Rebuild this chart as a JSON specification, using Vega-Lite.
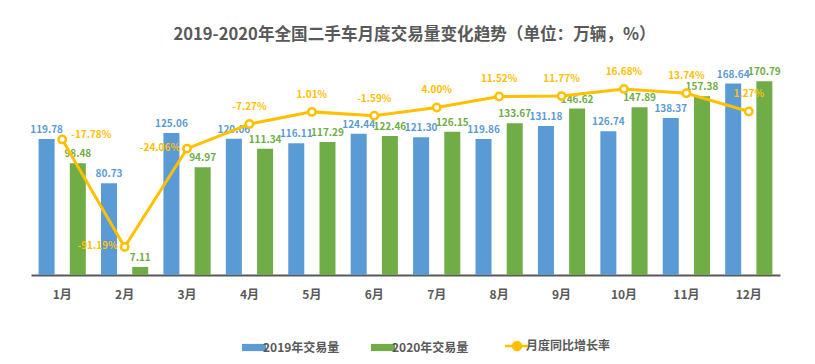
{
  "$schema": "https://vega.github.io/schema/vega-lite/v6.json",
  "width": 749,
  "height": 227,
  "autosize": {"type": "none"},
  "padding": {"left": 31, "top": 48, "right": 35, "bottom": 89},
  "background": "white",
  "title": {
    "text": "2019-2020年全国二手车月度交易量变化趋势（单位：万辆，%）",
    "font": "Noto Sans CJK SC",
    "fontSize": 16.6,
    "fontWeight": "bold",
    "color": "#595959",
    "anchor": "middle",
    "dx": 9,
    "offset": 4
  },
  "config": {
    "view": {"stroke": null},
    "font": "Noto Sans CJK SC",
    "legend": {"labelFontWeight": 700, "labelFont": "Noto Sans CJK SC", "labelFontSize": 12, "labelColor": "#595959"}
  },
  "datasets": {
    "bars": [
      {"month": "1月", "series": "2019年交易量", "value": 119.78},
      {"month": "2月", "series": "2019年交易量", "value": 80.73},
      {"month": "3月", "series": "2019年交易量", "value": 125.06},
      {"month": "4月", "series": "2019年交易量", "value": 120.06},
      {"month": "5月", "series": "2019年交易量", "value": 116.11},
      {"month": "6月", "series": "2019年交易量", "value": 124.44},
      {"month": "7月", "series": "2019年交易量", "value": 121.30},
      {"month": "8月", "series": "2019年交易量", "value": 119.86},
      {"month": "9月", "series": "2019年交易量", "value": 131.18},
      {"month": "10月", "series": "2019年交易量", "value": 126.74},
      {"month": "11月", "series": "2019年交易量", "value": 138.37},
      {"month": "12月", "series": "2019年交易量", "value": 168.64},
      {"month": "1月", "series": "2020年交易量", "value": 98.48},
      {"month": "2月", "series": "2020年交易量", "value": 7.11},
      {"month": "3月", "series": "2020年交易量", "value": 94.97},
      {"month": "4月", "series": "2020年交易量", "value": 111.34},
      {"month": "5月", "series": "2020年交易量", "value": 117.29},
      {"month": "6月", "series": "2020年交易量", "value": 122.46},
      {"month": "7月", "series": "2020年交易量", "value": 126.15},
      {"month": "8月", "series": "2020年交易量", "value": 133.67},
      {"month": "9月", "series": "2020年交易量", "value": 146.62},
      {"month": "10月", "series": "2020年交易量", "value": 147.89},
      {"month": "11月", "series": "2020年交易量", "value": 157.38},
      {"month": "12月", "series": "2020年交易量", "value": 170.79}
    ],
    "growth": [
      {"month": "1月", "rate": -0.1778},
      {"month": "2月", "rate": -0.9119},
      {"month": "3月", "rate": -0.2406},
      {"month": "4月", "rate": -0.0727},
      {"month": "5月", "rate": 0.0101},
      {"month": "6月", "rate": -0.0159},
      {"month": "7月", "rate": 0.0400},
      {"month": "8月", "rate": 0.1152},
      {"month": "9月", "rate": 0.1177},
      {"month": "10月", "rate": 0.1668},
      {"month": "11月", "rate": 0.1374},
      {"month": "12月", "rate": 0.0127}
    ]
  },
  "encoding": {
    "x": {
      "field": "month",
      "type": "nominal",
      "sort": ["1月","2月","3月","4月","5月","6月","7月","8月","9月","10月","11月","12月"],
      "scale": {"paddingInner": 0, "paddingOuter": 0},
      "axis": {
        "title": null,
        "labelAngle": 0,
        "labelFont": "Noto Sans CJK SC",
        "labelFontSize": 12,
        "labelFontWeight": "bold",
        "labelColor": "#595959",
        "labelPadding": 14,
        "ticks": false,
        "domainColor": "#595959",
        "domainWidth": 2,
        "grid": false
      }
    }
  },
  "layer": [
    {
      "layer": [
        {
          "data": {"name": "bars"},
          "mark": {"type": "bar"},
          "encoding": {
            "xOffset": {"field": "series", "type": "nominal", "scale": {"paddingInner": 0.487, "paddingOuter": 0.2435}},
            "y": {"field": "value", "type": "quantitative", "scale": {"domain": [0, 200], "nice": false}, "axis": null},
            "color": {
              "field": "series",
              "type": "nominal",
              "scale": {
                "domain": ["2019年交易量", "2020年交易量", "月度同比增长率"],
                "range": ["#5B9BD5", "#70AD47", "#FFC000"]
              },
              "legend": {
                "title": null,
                "orient": "none",
                "direction": "horizontal",
                "legendX": 217,
                "legendY": 292,
                "labelFont": "Noto Sans CJK SC",
                "labelFontSize": 12,
                "labelFontWeight": 700,
                "labelColor": "#595959",
                "labelOffset": 3,
                "columnPadding": 31,
                "symbolSize": 576,
                "encode": {
                  "labels": {
                    "update": {
                      "fontWeight": {"value": 700},
                      "font": {"value": "Noto Sans CJK SC"}
                    }
                  },
                  "symbols": {
                    "update": {
                      "shape": {"signal": "datum.value === '月度同比增长率' ? 'M-1,0H-0.33M0.33,0H1M0.33,0A0.33,0.33,0,1,1,-0.33,0A0.33,0.33,0,1,1,0.33,0' : 'M-1,-0.3H1V0.3H-1Z'"},
                      "fill": {"signal": "datum.value === '月度同比增长率' ? 'white' : scale('color', datum.value)"},
                      "stroke": {"signal": "scale('color', datum.value)"},
                      "strokeWidth": {"signal": "datum.value === '月度同比增长率' ? 2.5 : 0"},
                      "fillOpacity": {"value": 1}
                    }
                  }
                }
              }
            }
          }
        },
        {
          "data": {"name": "bars"},
          "mark": {"type": "text", "baseline": "bottom", "dy": -4, "font": "Noto Sans CJK SC", "fontSize": 10, "fontWeight": "bold"},
          "encoding": {
            "xOffset": {"field": "series", "type": "nominal", "scale": {"paddingInner": 0.487, "paddingOuter": 0.2435}},
            "y": {"field": "value", "type": "quantitative", "scale": {"domain": [0, 200], "nice": false}, "axis": null},
            "text": {"field": "value", "type": "quantitative", "format": ".2f"},
            "color": {"field": "series", "type": "nominal", "legend": null}
          }
        }
      ]
    },
    {
      "data": {"name": "growth"},
      "encoding": {
        "y": {"field": "rate", "type": "quantitative", "scale": {"domain": [-1.103, 0.446], "nice": false, "zero": false}, "axis": null}
      },
      "layer": [
        {"mark": {"type": "line", "color": "#FFC000", "strokeWidth": 3}},
        {"mark": {"type": "point", "shape": "circle", "filled": true, "fill": "white", "stroke": "#FFC000", "strokeWidth": 2.5, "size": 55, "opacity": 1}},
        {
          "transform": [{"filter": {"field": "month", "oneOf": ["4月","5月","6月","7月","8月","9月","10月","11月","12月"]}}],
          "mark": {"type": "text", "dy": -17, "font": "Noto Sans CJK SC", "fontSize": 10, "fontWeight": "bold", "color": "#FFC000", "text": {"expr": "replace(format(datum.rate, '.2%'), '\u2212', '-')"}},
          "encoding": {}
        },
        {
          "transform": [{"filter": {"field": "month", "equal": "1月"}}],
          "mark": {"type": "text", "align": "left", "dx": 9, "dy": -4, "font": "Noto Sans CJK SC", "fontSize": 10, "fontWeight": "bold", "color": "#FFC000", "text": {"expr": "replace(format(datum.rate, '.2%'), '\u2212', '-')"}},
          "encoding": {}
        },
        {
          "transform": [{"filter": {"field": "month", "oneOf": ["2月", "3月"]}}],
          "mark": {"type": "text", "align": "right", "dx": -7, "dy": -1, "font": "Noto Sans CJK SC", "fontSize": 10, "fontWeight": "bold", "color": "#FFC000", "text": {"expr": "replace(format(datum.rate, '.2%'), '\u2212', '-')"}},
          "encoding": {}
        }
      ]
    }
  ],
  "resolve": {"scale": {"y": "independent"}}
}
